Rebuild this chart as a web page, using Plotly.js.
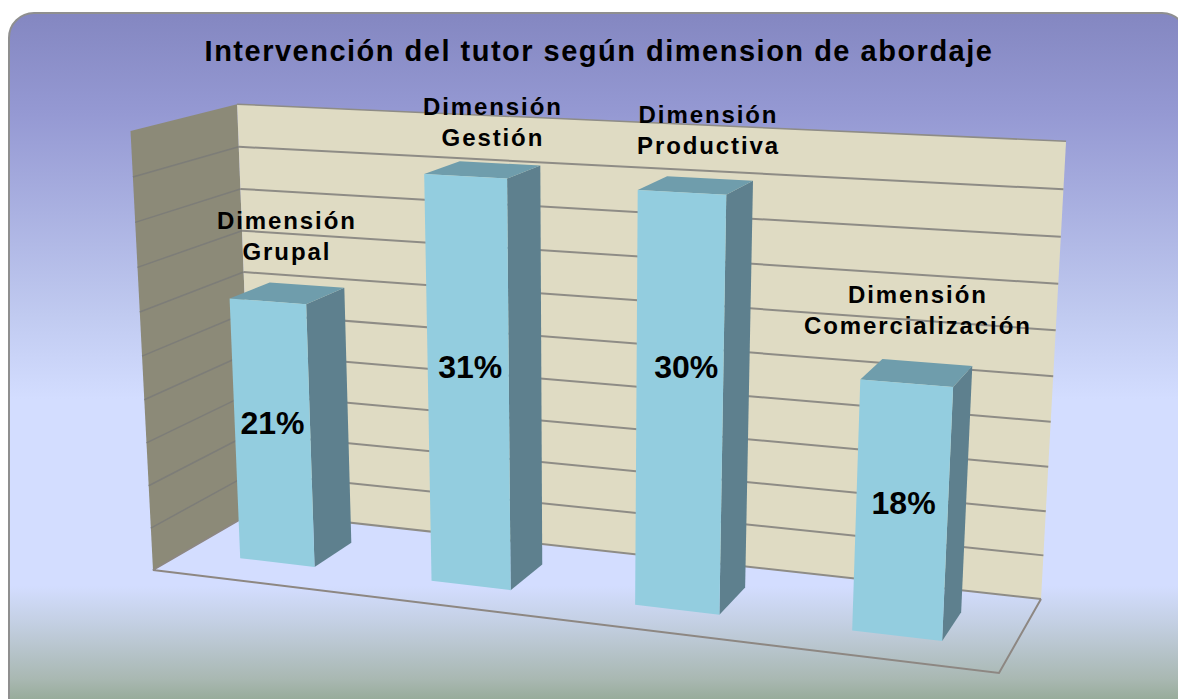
<!DOCTYPE html>
<html><head><meta charset="utf-8">
<script src="https://cdn.plot.ly/plotly-3.0.1.min.js"></script>
<style>
html,body{margin:0;padding:0;background:#fff;overflow:hidden;width:1178px;height:699px}
#frame{position:absolute;left:8px;top:12px;width:1180px;height:760px;box-sizing:border-box;border:2px solid #8f8f8f;border-radius:26px;
background:linear-gradient(180deg,#8487c1 0px,#9599d3 100px,#c0caf0 300px,#d3ddff 385px,#d3ddff 572px,#c3cfe2 610px,#a9b8b2 665px,#94a995 690px,#94a995 760px)}
#chart{position:absolute;left:0;top:0;width:1178px;height:699px}
.gtitle{letter-spacing:1.5px}
.annotation-text{letter-spacing:1.9px}
</style></head><body>
<div id="frame"></div><div id="chart"></div>
<script>
// --- data ---
const categories = ["Dimensión<br>Grupal","Dimensión<br>Gestión","Dimensión<br>Productiva","Dimensión<br>Comercialización"];
const values = [20.5,30.7,30.4,18.2];
const valueLabels = ["21%","31%","30%","18%"];
const axisMax = 33.5;
const gridSteps = 10;
// --- scene: floor of the perspective box in page pixels, vertical vanishing point, camera strength ---
const floorQuad = [[153,570],[999,673],[1041,599],[253,512]];   // front-left, front-right, back-right, back-left
const verticalVanish = [583,8965];
const heightGain = -0.0497;
const barHalfWidth = 0.0495, barDepth = [0.3,0.70];
const labelShiftY = [-57,-48,-55,-63], labelShiftX = [-1,10,13,1];
const pctShiftY = [-7.5,-15.5,-36,-5], pctShiftX = [0,2,7,2];

function homography(q){
  const [p0,p1,p2,p3]=q;
  const dx1=p1[0]-p2[0],dx2=p3[0]-p2[0],sx=p0[0]-p1[0]+p2[0]-p3[0];
  const dy1=p1[1]-p2[1],dy2=p3[1]-p2[1],sy=p0[1]-p1[1]+p2[1]-p3[1];
  const d=dx1*dy2-dx2*dy1;
  const g=(sx*dy2-dx2*sy)/d,h=(dx1*sy-sx*dy1)/d;
  const a=p1[0]-p0[0]+g*p1[0],b=p3[0]-p0[0]+h*p3[0],c=p0[0];
  const e=p1[1]-p0[1]+g*p1[1],f=p3[1]-p0[1]+h*p3[1],k=p0[1];
  return (u,w)=>{const z=g*u+h*w+1;return {x:(a*u+b*w+c)/z,y:(e*u+f*w+k)/z,z:z};};
}
const floorH=homography(floorQuad);
function project(u,w,v){
  const F=floorH(u,w),tq=heightGain*v/axisMax,s=tq/(F.z+tq);
  return [F.x+s*(verticalVanish[0]-F.x),F.y+s*(verticalVanish[1]-F.y)];
}
function poly(pts,fill){
  const c=pts.concat([pts[0]]);
  return {type:'scatter',mode:'lines',x:c.map(p=>p[0]),y:c.map(p=>p[1]),fill:'toself',fillcolor:fill,line:{width:0,color:fill},hoverinfo:'skip'};
}
function seg(pts,color,width){
  return {type:'scatter',mode:'lines',x:pts.map(p=>p[0]),y:pts.map(p=>p[1]),line:{color:color,width:width},hoverinfo:'skip'};
}
const traces=[];
traces.push(poly([project(0,0,0),project(0,1,0),project(0,1,axisMax),project(0,0,axisMax)],'#8c8a78'));
traces.push(poly([project(0,1,0),project(1,1,0),project(1,1,axisMax),project(0,1,axisMax)],'#dfdbc3'));
for(let i=0;i<=gridSteps;i++){
  const v=axisMax*i/gridSteps;
  if(i>0&&i<gridSteps) traces.push(seg([project(0,0,v),project(0,1,v)],'#7d7d78',1.5));
  traces.push(seg([project(0,1,v),project(1,1,v)],'#8e8c86',i==gridSteps?1.5:2));
}
traces.push(seg([project(0,1,0),project(0,0,0),project(1,0,0),project(1,1,0)],'#8d8782',2));
const n=values.length, annos=[], px=[], py=[];
values.forEach((val,i)=>{
  const uc=(i+0.5)/n,u0=uc-barHalfWidth,u1=uc+barHalfWidth,w0=barDepth[0],w1=barDepth[1];
  traces.push(poly([project(u1,w0,0),project(u1,w1,0),project(u1,w1,val),project(u1,w0,val)],'#5e808e'));
  traces.push(poly([project(u0,w0,val),project(u1,w0,val),project(u1,w1,val),project(u0,w1,val)],'#6f9dac'));
  traces.push(poly([project(u0,w0,0),project(u1,w0,0),project(u1,w0,val),project(u0,w0,val)],'#93cddf'));
  const mid=project(uc,w0,val/2), top=project(uc,(w0+w1)/2,val);
  px.push(mid[0]+pctShiftX[i]); py.push(mid[1]+pctShiftY[i]);
  annos.push({x:top[0],y:top[1],xref:'x',yref:'y',text:'<b>'+categories[i]+'</b>',showarrow:false,xshift:labelShiftX[i],yshift:-labelShiftY[i],font:{family:'Liberation Sans',size:24,color:'#000'},align:'center'});
});
traces.push({type:'scatter',mode:'text',x:px,y:py,text:valueLabels.map(s=>'<b>'+s+'</b>'),textposition:'middle center',textfont:{family:'Liberation Sans',size:32,color:'#000'},hoverinfo:'skip'});
Plotly.newPlot('chart',traces,{
  width:1178,height:699,margin:{l:0,r:0,t:0,b:0},showlegend:false,
  paper_bgcolor:'rgba(0,0,0,0)',plot_bgcolor:'rgba(0,0,0,0)',
  xaxis:{range:[0,1178],visible:false,fixedrange:true},
  yaxis:{range:[699,0],visible:false,fixedrange:true},
  title:{text:'<b>Intervención del tutor según dimension de abordaje</b>',x:599/1178,xanchor:'center',y:1-51/699,yanchor:'middle',font:{family:'Liberation Sans',size:29,color:'#000'}},
  annotations:annos
},{displayModeBar:false,staticPlot:true});
</script></body></html>
